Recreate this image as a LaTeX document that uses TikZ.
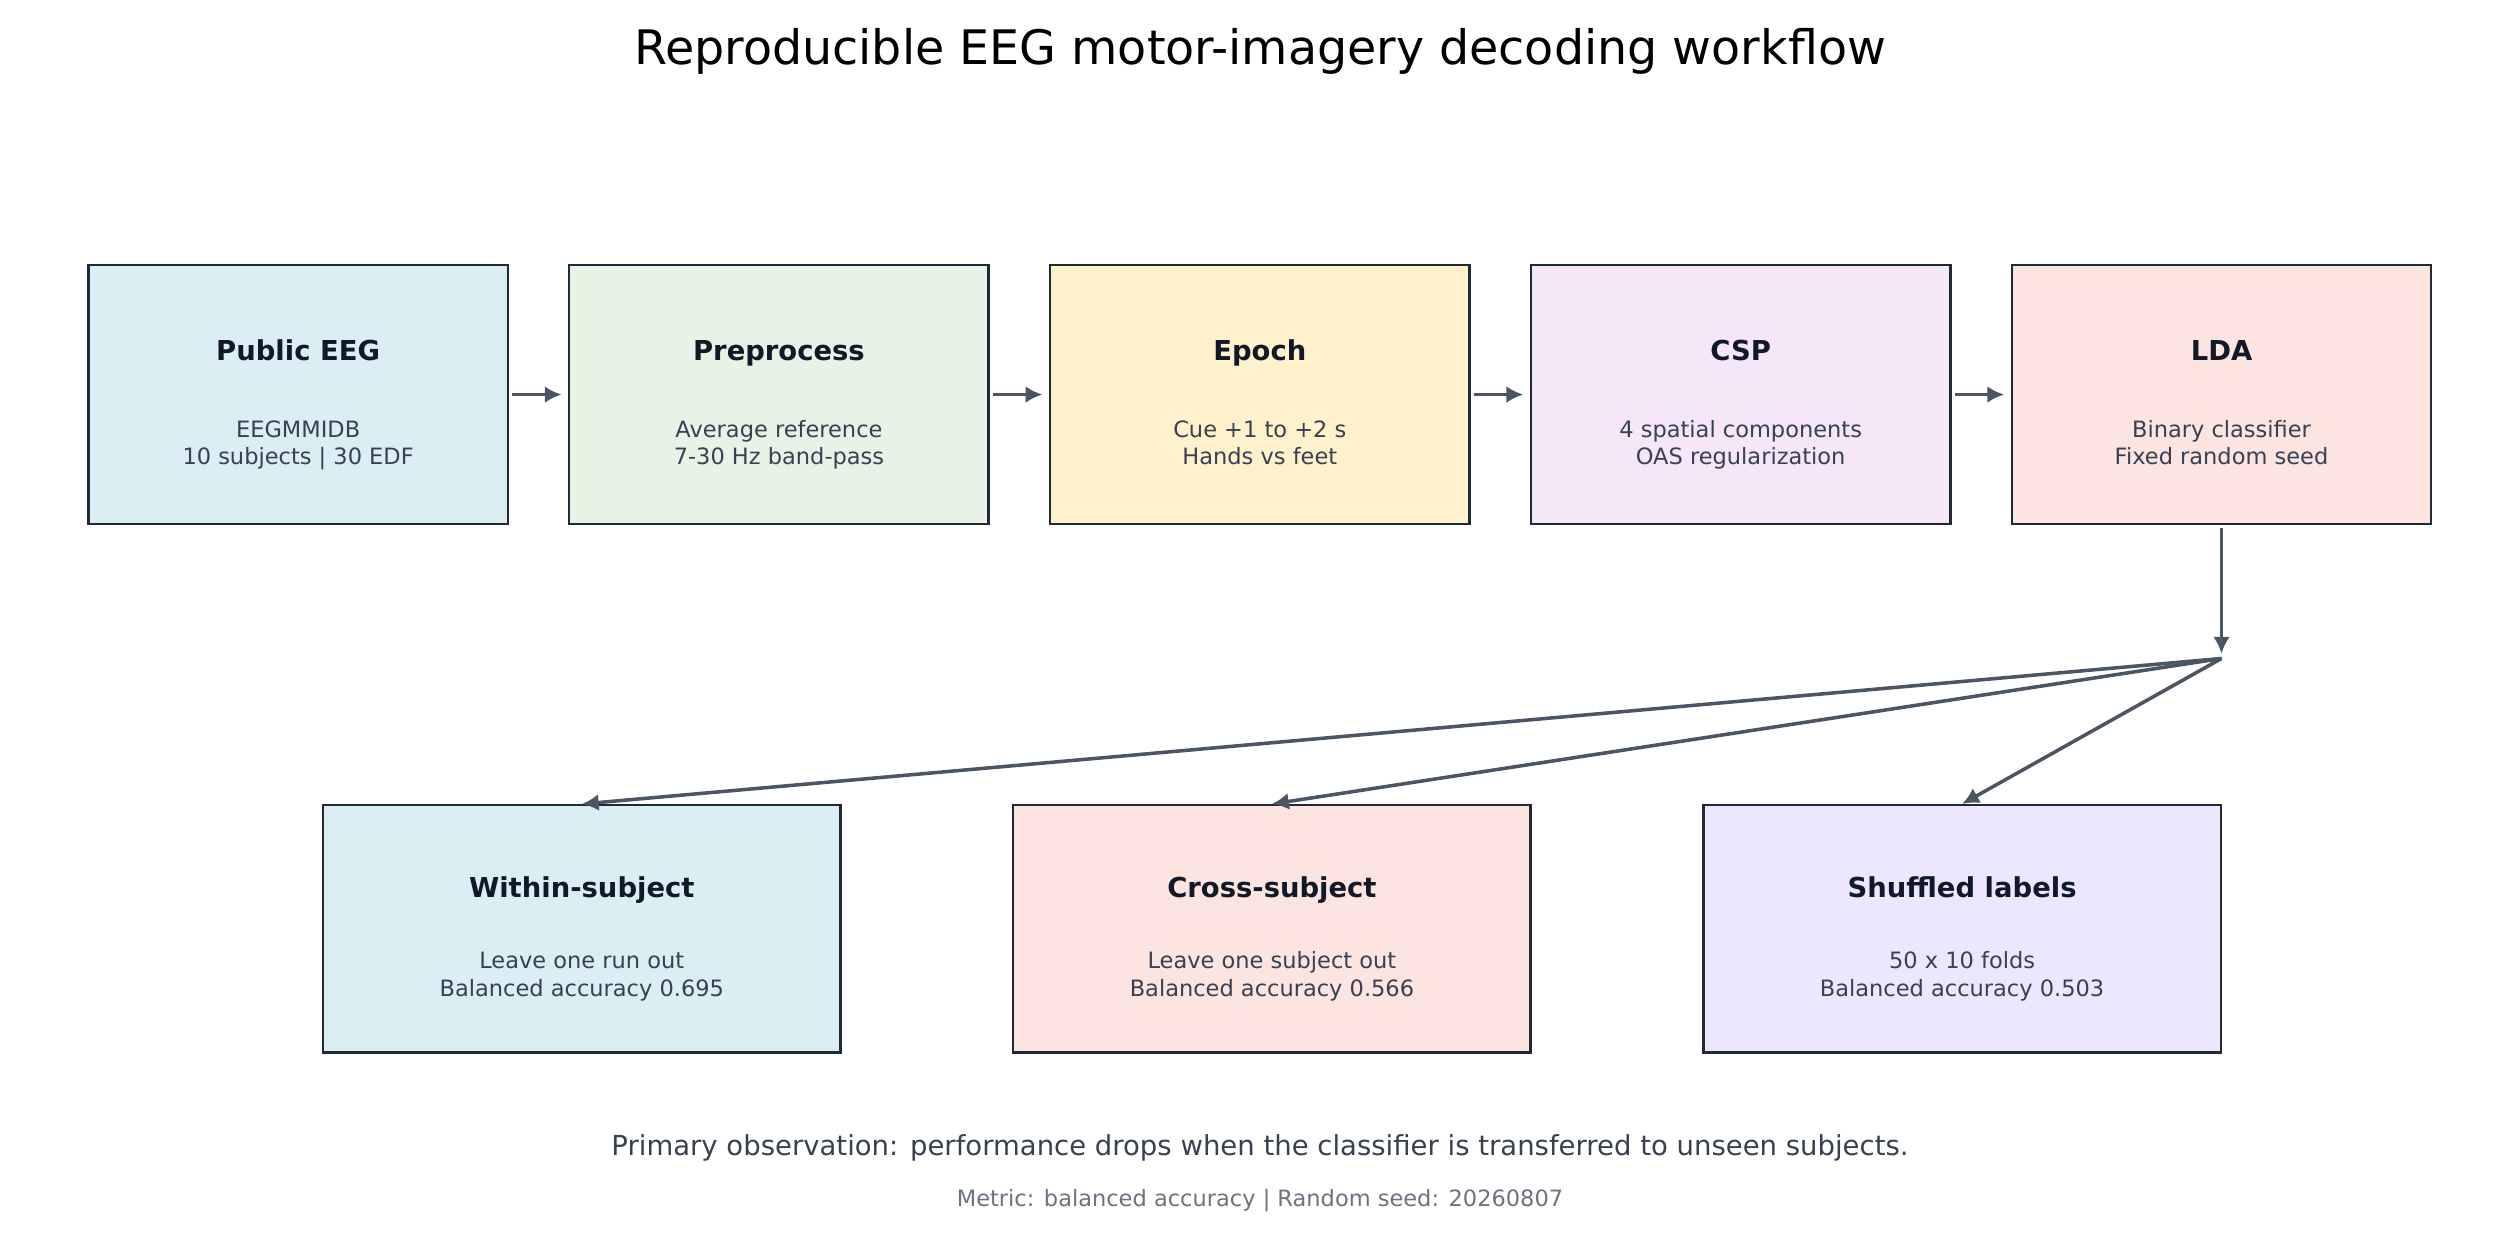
\documentclass[tikz,border=0pt]{standalone}
\usepackage{fontspec}
\setmainfont{DejaVu Sans}
\usetikzlibrary{positioning, arrows.meta}

\definecolor{edgecol}{HTML}{1F2937}
\definecolor{headcol}{HTML}{111827}
\definecolor{subcol}{HTML}{374151}
\definecolor{arrowcol}{HTML}{4B5563}
\definecolor{notecol}{HTML}{6B7280}
\definecolor{fillblue}{HTML}{DBEEF3}
\definecolor{fillgreen}{HTML}{E8F3E8}
\definecolor{fillyellow}{HTML}{FFF1CC}
\definecolor{filllilac}{HTML}{F5E6F8}
\definecolor{fillpink}{HTML}{FCE4E0}
\definecolor{fillviolet}{HTML}{EDE7FE}

\newcommand{\stagehead}[1]{{\fontsize{9.71}{11.65}\selectfont\bfseries\color{headcol}#1}}
\newcommand{\stagetext}[3][17.6pt]{\rule{0pt}{15.7pt}\stagehead{#2}\\[#1]#3\rule[-3pt]{0pt}{3pt}}

\begin{document}
\begin{tikzpicture}[
	x = 0.02cm, y = -0.02cm,
	stage/.style = {draw = edgecol, line width = 0.03cm, align = center,
		minimum width = 5.22cm, minimum height = 3.22cm, inner sep = 0pt,
		text = subcol, font = \fontsize{7.97}{9.67}\selectfont},
	result/.style = {stage, minimum width = 6.44cm, minimum height = 3.08cm},
	flow/.style = {draw = arrowcol, line width = 0.044cm,
		-{Latex[length = 0.21cm, width = 0.21cm]}},
	node distance = 0.735cm]
	\useasboundingbox (0, 0) rectangle (1568, 784);

	\node[font = \fontsize{16.84}{20}\selectfont, text = black] (title) at (784, 32)
		{Reproducible EEG motor-imagery decoding workflow};

	% Pipeline
	\node[stage, fill = fillblue] (eeg) at (185.5, 245.5)
		{\stagetext{Public EEG}{EEGMMIDB\\10 subjects | 30 EDF}};
	\node[stage, fill = fillgreen, right = of eeg] (prep)
		{\stagetext{Preprocess}{Average reference\\7-30 Hz band-pass}};
	\node[stage, fill = fillyellow, right = of prep] (epoch)
		{\stagetext{Epoch}{Cue +1 to +2 s\\Hands vs feet}};
	\node[stage, fill = filllilac, right = of epoch] (csp)
		{\stagetext{CSP}{4 spatial components\\OAS regularization}};
	\node[stage, fill = fillpink, right = of csp] (lda)
		{\stagetext{LDA}{Binary classifier\\Fixed random seed}};

	% Evaluations
	\node[result, fill = fillblue] (within) at (362, 578)
		{\stagetext[15.6pt]{Within-subject}{Leave one run out\\Balanced accuracy 0.695}};
	\node[result, fill = fillpink, right = 2.12cm of within] (cross)
		{\stagetext[15.6pt]{Cross-subject}{Leave one subject out\\Balanced accuracy 0.566}};
	\node[result, fill = fillviolet, right = 2.12cm of cross] (shuffle)
		{\stagetext[15.6pt]{Shuffled labels}{50 x 10 folds\\Balanced accuracy 0.503}};

	\coordinate[below = 1.66cm of lda] (split);

	\foreach \a/\b in {eeg/prep, prep/epoch, epoch/csp, csp/lda}
		\draw[flow, shorten < = 0.04cm, shorten > = 0.08cm] (\a) -- (\b);
	\draw[flow, shorten < = 0.04cm, shorten > = 0.06cm] (lda) -- (split);
	\foreach \t in {within, cross, shuffle}
		\draw[flow] (split) -- (\t.north);

	% Notes
	\node[font = \fontsize{9.74}{11.7}\selectfont, text = subcol] (obs) at (784, 714)
		{Primary observation: performance drops when the classifier is transferred to unseen subjects.};
	\node[font = \fontsize{7.97}{9.6}\selectfont, text = notecol] (metric) at (784, 747)
		{Metric: balanced accuracy | Random seed: 20260807};
\end{tikzpicture}
\end{document}
